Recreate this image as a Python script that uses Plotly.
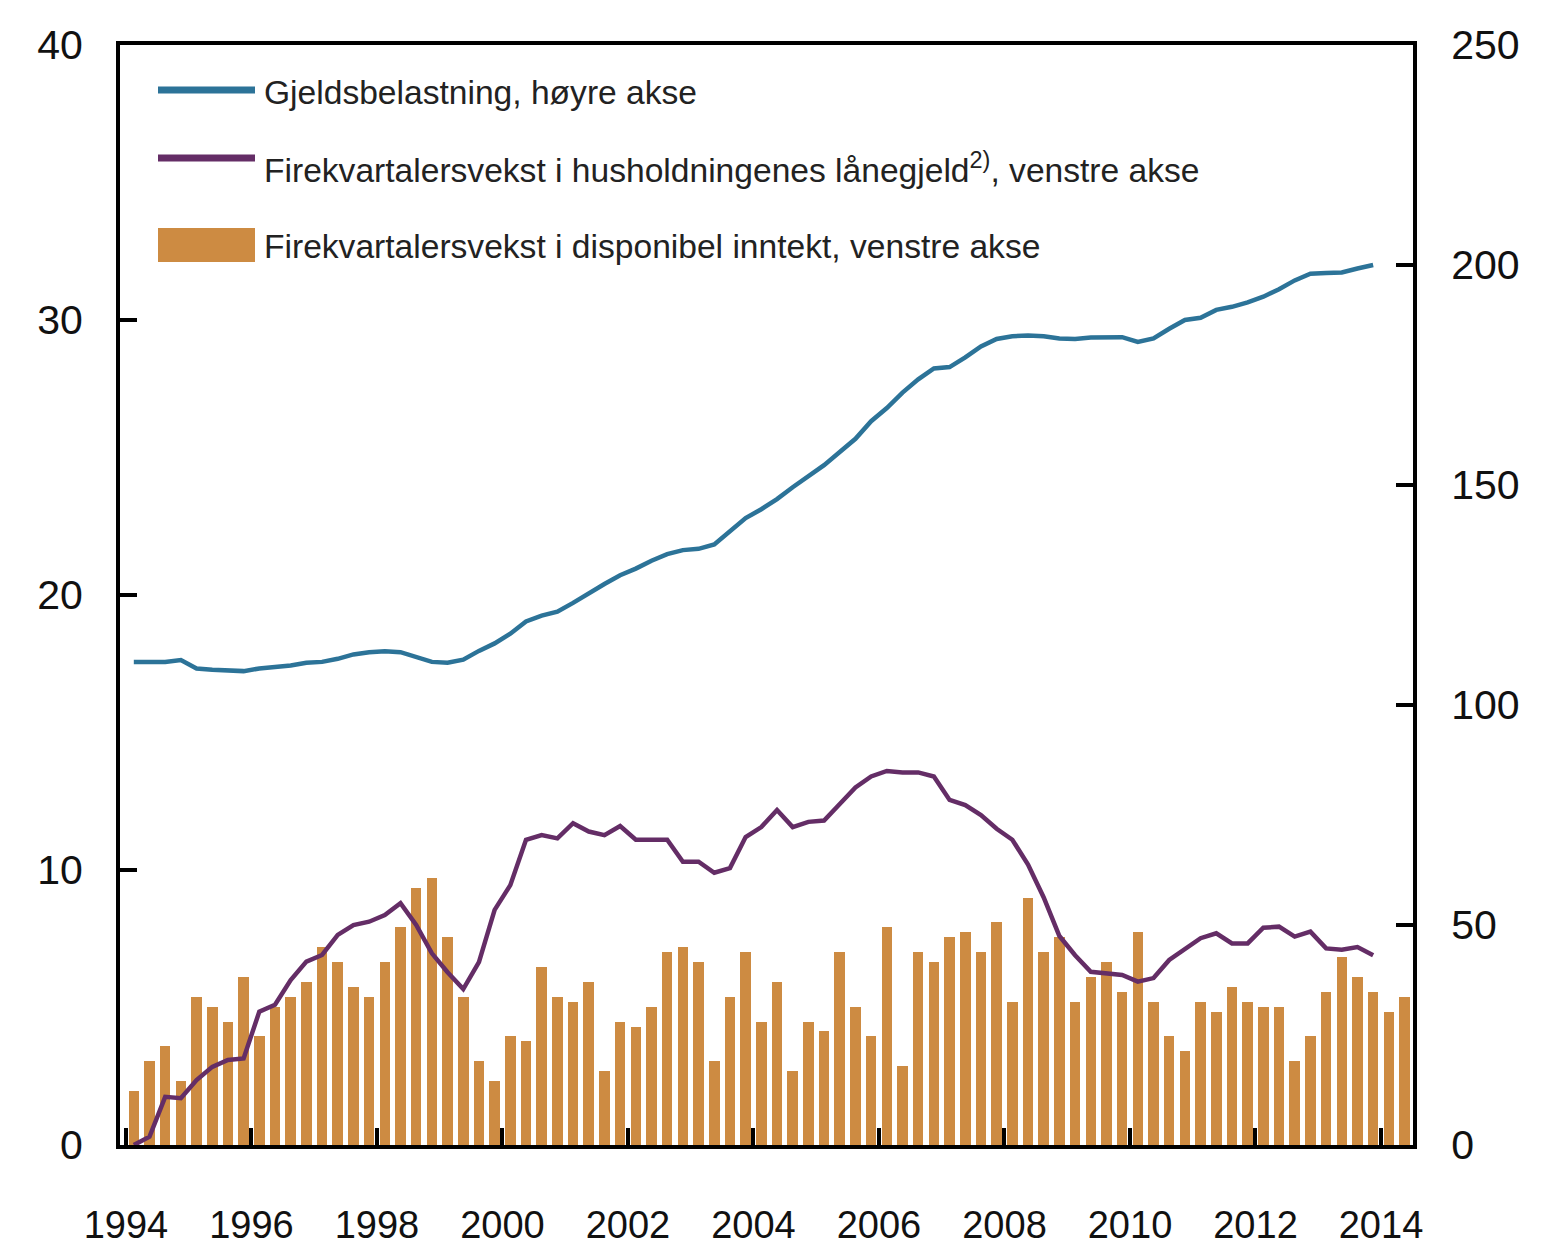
import plotly.graph_objects as go

# ---------------- data (quarterly, starting 1994 Q1) ----------------
start_year = 1994

# Four-quarter growth in disposable income, percent (left axis) – 1994Q1..2014Q2
income_growth = [
    1.98, 3.07, 3.61, 2.34,   # 1994
    5.39, 5.03, 4.48, 6.12,   # 1995
    3.98, 5.03, 5.39, 5.94,   # 1996
    7.21, 6.67, 5.76, 5.39,   # 1997
    6.67, 7.94, 9.36, 9.72,   # 1998
    7.58, 5.39, 3.07, 2.34,   # 1999
    3.98, 3.79, 6.48, 5.39,   # 2000
    5.21, 5.94, 2.70, 4.48,   # 2001
    4.30, 5.03, 7.03, 7.21,   # 2002
    6.67, 3.07, 5.39, 7.03,   # 2003
    4.48, 5.94, 2.70, 4.48,   # 2004
    4.16, 7.03, 5.03, 3.98,   # 2005
    7.94, 2.88, 7.03, 6.67,   # 2006
    7.58, 7.76, 7.03, 8.12,   # 2007
    5.21, 8.99, 7.03, 7.58,   # 2008
    5.21, 6.12, 6.67, 5.58,   # 2009
    7.76, 5.21, 3.98, 3.43,   # 2010
    5.21, 4.85, 5.76, 5.21,   # 2011
    5.03, 5.03, 3.07, 3.98,   # 2012
    5.58, 6.85, 6.12, 5.58,   # 2013
    4.85, 5.39,               # 2014
]

# Four-quarter growth in household loan debt, percent (left axis) – 1994Q1..2013Q4
debt_growth = [
    0.00, 0.30, 1.75, 1.70,
    2.36, 2.84, 3.09, 3.15,
    4.85, 5.10, 6.00, 6.67,
    6.91, 7.64, 8.00, 8.12,
    8.36, 8.79, 8.00, 6.97,
    6.28, 5.67, 6.65, 8.55,
    9.45, 11.10, 11.27, 11.15,
    11.70, 11.40, 11.27, 11.60,
    11.10, 11.10, 11.10, 10.30,
    10.30, 9.90, 10.07, 11.20,
    11.56, 12.18, 11.56, 11.75,
    11.80, 12.40, 13.00, 13.40,
    13.60, 13.55, 13.55, 13.40,
    12.55, 12.36, 12.00, 11.50,
    11.10, 10.20, 9.00, 7.60,
    6.90, 6.30, 6.25, 6.18,
    5.94, 6.07, 6.73, 7.15,
    7.52, 7.70, 7.33, 7.33,
    7.90, 7.94, 7.58, 7.76,
    7.15, 7.10, 7.20, 6.90,
]

# Debt burden, percent (right axis) – 1994Q1..2013Q4
debt_burden = [
    109.8, 109.8, 109.8, 110.2,
    108.3, 108.0, 107.8, 107.7,
    108.3, 108.6, 109.0, 109.6,
    109.8, 110.5, 111.5, 112.0,
    112.2, 112.0, 111.0, 109.8,
    109.6, 110.3, 112.3, 114.0,
    116.2, 119.0, 120.3, 121.2,
    123.2, 125.5, 127.5, 129.5,
    131.0, 132.8, 134.3, 135.2,
    135.5, 136.5, 139.5, 142.5,
    144.5, 146.8, 149.5, 152.0,
    154.5, 157.5, 160.5, 164.5,
    167.5, 171.0, 174.0, 176.5,
    176.8, 179.0, 181.5, 183.2,
    183.8, 184.0, 183.8, 183.3,
    183.2, 183.5, 183.6, 183.6,
    182.5, 183.3, 185.5, 187.5,
    188.0, 189.8, 190.5, 191.5,
    192.8, 194.5, 196.5, 198.0,
    198.2, 198.3, 199.2, 200.0,
]

x_tick_years = [1994, 1996, 1998, 2000, 2002, 2004, 2006, 2008, 2010, 2012, 2014]
x_tick_labels = [str(y) for y in x_tick_years]
left_ticks = [0, 10, 20, 30, 40]
right_ticks = [0, 50, 100, 150, 200, 250]

legend_labels = [
    "Gjeldsbelastning, høyre akse",
    "Firekvartalersvekst i husholdningenes lånegjeld<sup>2)</sup>, venstre akse",
    "Firekvartalersvekst i disponibel inntekt, venstre akse",
]

# ---------------- styling ----------------
BAR_COLOR = "#CD8B42"
BLUE = "#2C7398"
PURPLE = "#642D66"
FONT = "Liberation Sans"

# page body has an 8px default margin, so the figure is placed 8px in
OFF = 8
W, H = 1545 - OFF, 1249 - OFF
L, T = 120 - OFF, 45 - OFF
PW, PH = 1293, 1100
R, B = W - L - PW, H - T - PH


def quarter_pos(i):
    # middle of quarter i counted from start_year Q1
    return start_year + (i + 0.5) / 4.0


x_income = [quarter_pos(i) for i in range(len(income_growth))]
x_debt = [quarter_pos(i) for i in range(len(debt_growth))]
x_burden = [quarter_pos(i) for i in range(len(debt_burden))]

fig = go.Figure()
fig.add_trace(go.Bar(x=x_income, y=income_growth, marker=dict(color=BAR_COLOR, line=dict(width=0)),
                     width=0.168, name=legend_labels[2], yaxis="y"))
fig.add_trace(go.Scatter(x=x_debt, y=debt_growth, mode="lines", line=dict(color=PURPLE, width=4.5),
                         name=legend_labels[1], yaxis="y"))
fig.add_trace(go.Scatter(x=x_burden, y=debt_burden, mode="lines", line=dict(color=BLUE, width=4.5),
                         name=legend_labels[0], yaxis="y2"))


def px_x(p):
    # p: pixel x in the final screenshot
    return (p - OFF - L) / PW


def px_y(p):
    return (T + PH - (p - OFF)) / PH


# manual legend (keys as shapes, labels as text)
shapes = [
    dict(type="line", xref="paper", yref="paper", x0=px_x(158), x1=px_x(255), y0=px_y(90), y1=px_y(90),
         line=dict(color=BLUE, width=7)),
    dict(type="line", xref="paper", yref="paper", x0=px_x(158), x1=px_x(255), y0=px_y(158), y1=px_y(158),
         line=dict(color=PURPLE, width=7)),
    dict(type="rect", xref="paper", yref="paper", x0=px_x(158), x1=px_x(255), y0=px_y(262), y1=px_y(228),
         fillcolor=BAR_COLOR, line=dict(width=0)),
]
annotations = []
for label, yc in zip(legend_labels, [93, 168, 246]):
    annotations.append(dict(text=label, xref="paper", yref="paper", x=px_x(262), y=px_y(yc),
                            xanchor="left", yanchor="middle", showarrow=False,
                            font=dict(family=FONT, size=33.6, color="#222222")))

fig.update_layout(
    width=W, height=H,
    margin=dict(l=L, r=R, t=T, b=B, pad=0, autoexpand=False),
    paper_bgcolor="white", plot_bgcolor="white",
    showlegend=False,
    bargap=0,
    font=dict(family=FONT, color="#111111"),
    xaxis=dict(
        range=[1993.905, 2014.51], tickmode="array", tickvals=x_tick_years, ticktext=x_tick_labels,
        ticks="inside", ticklen=17, tickwidth=4, tickcolor="black",
        showline=True, linewidth=4, linecolor="black", mirror=True,
        showgrid=False, zeroline=False, automargin=False,
        tickfont=dict(family=FONT, size=38, color="#111111"),
        ticklabelstandoff=43,
    ),
    yaxis=dict(
        range=[0, 40], tickmode="array", tickvals=left_ticks,
        ticks="inside", ticklen=17, tickwidth=4, tickcolor="black",
        showline=True, linewidth=4, linecolor="black", mirror=True,
        showgrid=False, zeroline=False, automargin=False,
        tickfont=dict(family=FONT, size=41, color="#111111"),
        ticklabelstandoff=25,
    ),
    yaxis2=dict(
        range=[0, 250], tickmode="array", tickvals=right_ticks,
        overlaying="y", side="right",
        ticks="inside", ticklen=17, tickwidth=4, tickcolor="black",
        showline=True, linewidth=4, linecolor="black",
        showgrid=False, zeroline=False, automargin=False,
        tickfont=dict(family=FONT, size=41, color="#111111"),
        ticklabelstandoff=26,
    ),
    shapes=shapes,
    annotations=annotations,
)

fig.write_html("out.html")
